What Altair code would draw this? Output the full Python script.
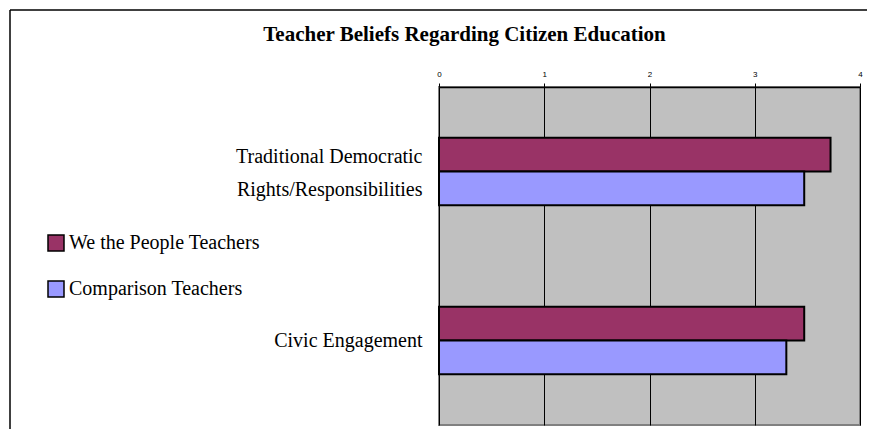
import altair as alt
import pandas as pd

categories = ["Traditional Democratic Rights/Responsibilities", "Civic Engagement"]
series = ["We the People Teachers", "Comparison Teachers"]
wtp_values = [3.72, 3.47]
comparison_values = [3.47, 3.30]
colors = ["#993366", "#9999FF"]
x_ticks = [0, 1, 2, 3, 4]
title_text = "Teacher Beliefs Regarding Citizen Education"

rows = []
for c, v in zip(categories, wtp_values):
    rows.append({"category": c, "series": series[0], "value": v})
for c, v in zip(categories, comparison_values):
    rows.append({"category": c, "series": series[1], "value": v})
df = pd.DataFrame(rows)

W, H = 421, 338

bars = alt.Chart(df).mark_bar(stroke="black", strokeWidth=2).encode(
    x=alt.X("value:Q",
            scale=alt.Scale(domain=[0, 4], nice=False, zero=True),
            axis=alt.Axis(orient="top", values=x_ticks, title=None, format="d",
                          domainColor="black", domainWidth=1.5,
                          tickColor="black", tickSize=4, tickWidth=1,
                          labelFont="Liberation Sans", labelFontSize=8,
                          labelColor="black", labelPadding=5, labelFlush=False,
                          grid=True, gridColor="black", gridWidth=1, gridOpacity=1)),
    y=alt.Y("category:N", sort=categories,
            scale=alt.Scale(paddingInner=0.6, paddingOuter=0.3),
            axis=alt.Axis(title=None, domain=False, ticks=False, grid=False,
                          labelFont="Liberation Serif", labelFontSize=20,
                          labelColor="black", labelPadding=17, labelLimit=0,
                          labelLineHeight=33,
                          labelOffset={"condition": {"test": "datum.value == 'Traditional Democratic Rights/Responsibilities'", "value": -15}, "value": 0},
                          labelExpr="datum.value == 'Traditional Democratic Rights/Responsibilities' ? ['Traditional Democratic', 'Rights/Responsibilities'] : datum.value")),
    yOffset=alt.YOffset("series:N", sort=series, scale=alt.Scale(paddingInner=0, paddingOuter=0)),
    color=alt.Color("series:N", sort=series,
                    scale=alt.Scale(domain=series, range=colors),
                    legend=alt.Legend(title=None, orient="none", legendX=-393, legendY=146,
                                      symbolType="square", symbolSize=256,
                                      symbolStrokeColor="black", symbolStrokeWidth=1.5,
                                      symbolOpacity=1,
                                      labelFont="Liberation Serif", labelFontSize=20,
                                      labelColor="black", labelOffset=3,
                                      rowPadding=24, padding=0, labelLimit=0)),
)

frame_left = alt.Chart(pd.DataFrame({"k": [0]})).mark_rule(color="black", strokeWidth=1.5).encode(
    x=alt.value(-429), y=alt.value(-77), y2=alt.value(H + 20))
frame_top = alt.Chart(pd.DataFrame({"k": [0]})).mark_rule(color="black", strokeWidth=1.5).encode(
    x=alt.value(-429), x2=alt.value(W + 20), y=alt.value(-77))

chart = alt.layer(bars, frame_left, frame_top).properties(
    width=W, height=H,
    background="white",
    autosize=alt.AutoSizeParams(type="none"),
    padding={"left": 431, "top": 79, "right": 7, "bottom": 4},
    title=alt.TitleParams(title_text, font="Liberation Serif", fontSize=21,
                          fontWeight="bold", color="black",
                          anchor="middle", frame="group", dx=-185, offset=0, dy=36),
).configure_view(
    fill="#C0C0C0", stroke="#808080", strokeWidth=2
)

chart.save("out.html", embed_options={"renderer": "svg", "actions": False})
